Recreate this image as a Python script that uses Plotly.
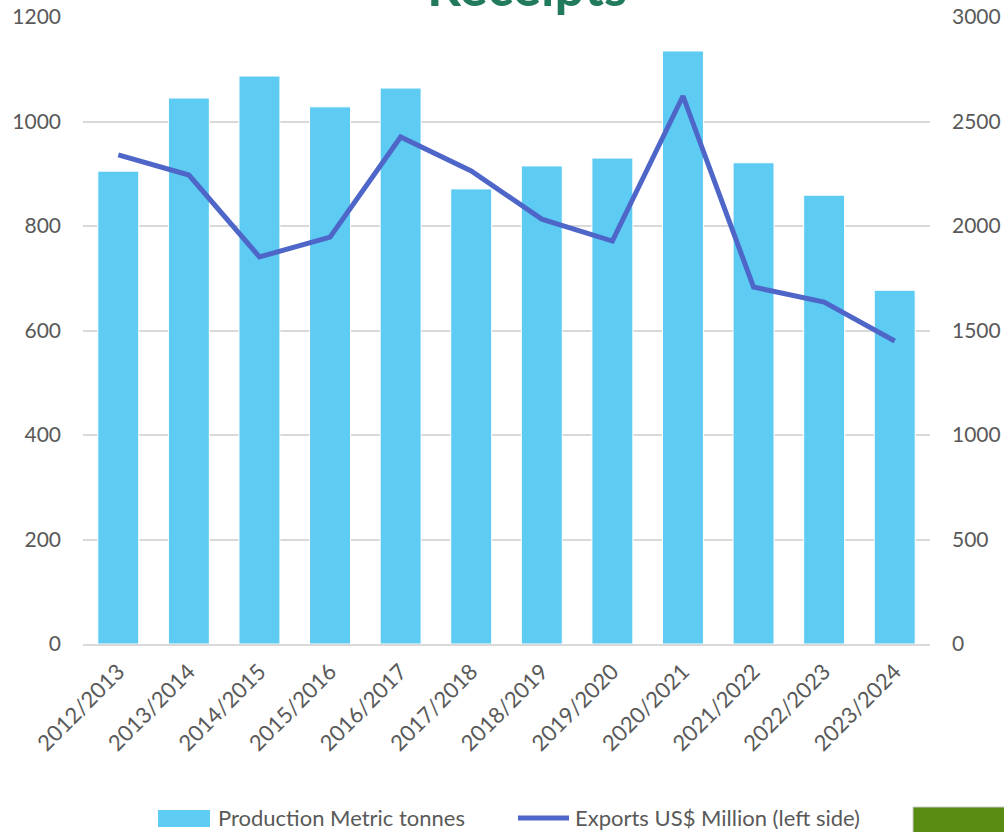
import plotly.graph_objects as go

seasons = ["2012/2013", "2013/2014", "2014/2015", "2015/2016", "2016/2017", "2017/2018",
           "2018/2019", "2019/2020", "2020/2021", "2021/2022", "2022/2023", "2023/2024"]
production = [905, 1045, 1087, 1028, 1064, 871, 915, 930, 1135, 921, 859, 677]
exports = [2340, 2244, 1852, 1947, 2426, 2263, 2033, 1928, 2622, 1708, 1636, 1450]

BAR_NAME = "Production Metric tonnes"
LINE_NAME = "Exports US$ Million (left side)"

FONT = "Lato, 'Open Sans', sans-serif"
TXT = "#595959"
BAR_C = "#5ECBF3"
LINE_C = "#4E66C8"

W, H = 1004, 832
L, R, T, B = 83, 74, 17, 188
ph = H - T - B
pw = W - L - R


def px_x(x):
    return (x - L) / pw


def px_y(y):
    return (T + ph - y) / ph


fig = go.Figure()
fig.add_trace(go.Bar(
    x=seasons, y=production, name=BAR_NAME,
    marker=dict(color=BAR_C, line=dict(color="white", width=1)),
    yaxis="y", showlegend=False,
))
fig.add_trace(go.Scatter(
    x=seasons, y=exports, name=LINE_NAME,
    mode="lines", line=dict(color=LINE_C, width=5),
    yaxis="y2", showlegend=False,
))

fig.update_layout(
    width=W, height=H,
    margin=dict(l=L, r=R, t=T, b=B, pad=0),
    paper_bgcolor="white", plot_bgcolor="white",
    font=dict(family=FONT, size=21, color=TXT),
    bargap=0.42,
    showlegend=False,
    xaxis=dict(tickangle=-45, showgrid=False, showline=True, linecolor="#D9D9D9",
               linewidth=2, ticks="", automargin=False, ticklabelstandoff=4,
               tickfont=dict(size=22, color=TXT)),
    yaxis=dict(range=[0, 1200], dtick=200, showgrid=True, gridcolor="#D9D9D9",
               gridwidth=1.5, zeroline=False, ticks="", ticklabelstandoff=21,
               automargin=False, tickfont=dict(size=21, color=TXT)),
    yaxis2=dict(range=[0, 3000], dtick=500, overlaying="y", side="right",
                showgrid=False, zeroline=False, ticks="", ticklabelstandoff=21,
                automargin=False, tickfont=dict(size=21, color=TXT)),
    annotations=[
        dict(text="<b>Receipts</b>", xref="paper", yref="paper",
             x=px_x(527), y=px_y(19), xanchor="center", yanchor="bottom",
             showarrow=False, font=dict(family=FONT, size=53, color="#217A5B")),
        dict(text=BAR_NAME, xref="paper", yref="paper", x=px_x(216), y=px_y(818),
             xanchor="left", yanchor="middle", showarrow=False,
             font=dict(family=FONT, size=22, color=TXT)),
        dict(text=LINE_NAME, xref="paper", yref="paper", x=px_x(573), y=px_y(818),
             xanchor="left", yanchor="middle", showarrow=False,
             font=dict(family=FONT, size=22, color=TXT)),
    ],
    shapes=[
        dict(type="rect", xref="paper", yref="paper",
             x0=px_x(158), x1=px_x(210), y0=px_y(810), y1=px_y(827),
             fillcolor=BAR_C, line=dict(width=0)),
        dict(type="line", xref="paper", yref="paper",
             x0=px_x(518), x1=px_x(569), y0=px_y(818), y1=px_y(818),
             line=dict(color=LINE_C, width=5)),
        dict(type="rect", xref="paper", yref="paper",
             x0=px_x(913), x1=px_x(1010), y0=px_y(807), y1=px_y(840),
             fillcolor="#5A8C13", line=dict(color="#C8C8C8", width=1),
             layer="above"),
    ],
)

fig.write_html("out.html")
